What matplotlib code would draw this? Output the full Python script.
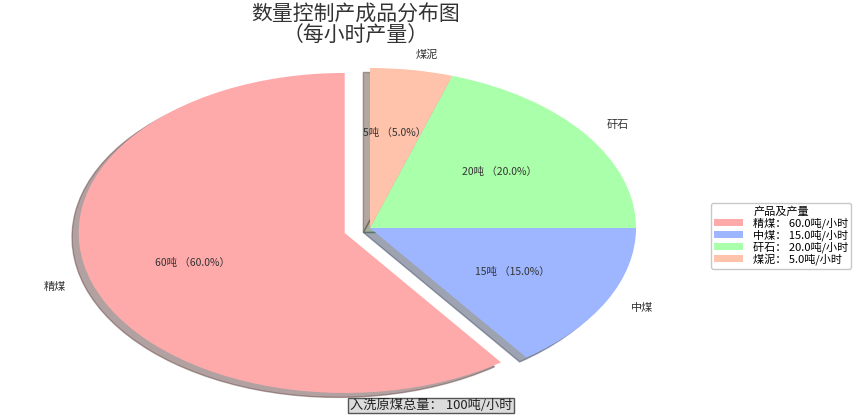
import matplotlib
matplotlib.use('Agg')
import matplotlib.pyplot as plt

plt.rcParams['font.family'] = ['Noto Sans CJK SC', 'DejaVu Sans']

products = ['精煤', '中煤', '矸石', '煤泥']
tons = [60, 15, 20, 5]
colors = ['#ffaaaa', '#9db6ff', '#aaffaa', '#ffc2aa']
explode = [0.1, 0, 0, 0]
total_feed = 100

W, H = 865, 417
# pie centre and radii in pixels (the reference pie is stretched sideways)
cx, cy, rx, ry = 370, 228, 266, 160

fig = plt.figure(figsize=(W / 100, H / 100), dpi=100)
ax = fig.add_axes([0, 0, 1, 1])

total = sum(tons)


def fmt(pct):
    return '{:.0f}吨 （{:.1f}%）'.format(pct * total / 100, pct)


wedges, texts, autotexts = ax.pie(
    tons, labels=products, colors=colors, explode=explode,
    startangle=90, shadow={'shade': 0.6, 'ox': -0.018, 'oy': -0.02},
    autopct=fmt, pctdistance=0.6, labeldistance=1.1,
    textprops={'fontsize': 7.5, 'color': '#333333'})
for t in texts:
    t.set_fontsize(8)

ax.set_aspect('auto')
ax.set_xlim(-cx / rx, (W - cx) / rx)
ax.set_ylim(-(H - cy) / ry, cy / ry)
ax.axis('off')

fig.text(0.411, 0.992, '数量控制产成品分布图\n（每小时产量）', ha='center', va='top',
         fontsize=15, linespacing=0.92, color='#333333')

legend_labels = ['{}： {:.1f}吨/小时'.format(p, t) for p, t in zip(products, tons)]
leg = fig.legend(wedges, legend_labels, title='产品及产量', loc='center left',
                 bbox_to_anchor=(0.815, 0.435), fontsize=8, title_fontsize=8,
                 handlelength=2.6, handleheight=0.6, labelspacing=0.05,
                 borderpad=0.3, handletextpad=0.9, frameon=True)
leg.get_frame().set_edgecolor('#bbbbbb')

fig.text(431 / W, (H - 405.5) / H, '入洗原煤总量： 100吨/小时', ha='center', va='center',
         fontsize=9.5, color='#222222',
         bbox=dict(boxstyle='square,pad=0.1', facecolor='#dcdcdc', edgecolor='#555555'))

fig.savefig('out.png', dpi=100)
